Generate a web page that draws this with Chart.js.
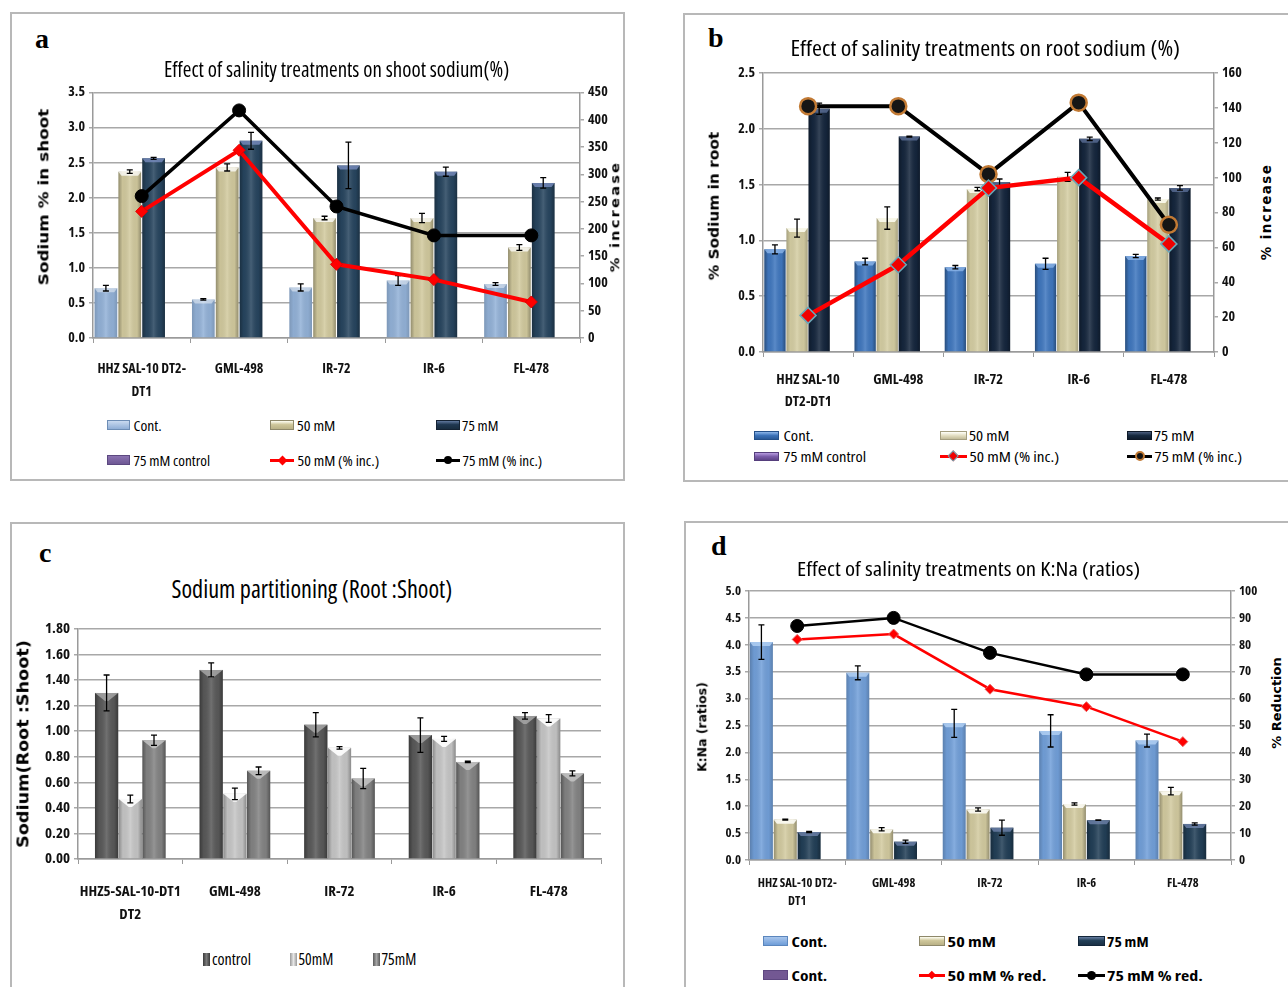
<!DOCTYPE html>
<html>
<head>
<meta charset="utf-8">
<script src="https://cdn.jsdelivr.net/npm/chart.js@4.4.1/dist/chart.umd.min.js"></script>
<style>
  html, body { margin: 0; padding: 0; background: #fff; }
  body { width: 1288px; height: 987px; position: relative; overflow: hidden; }
  .panel { position: absolute; border: 2px solid #B8B8B8; box-sizing: border-box; }
  .t { position: absolute; white-space: nowrap; line-height: 1; transform-origin: center center; color: #000; }
  .sw { position: absolute; box-sizing: border-box; }
</style>
</head>
<body>
<div class="panel" style="left:10px;top:12px;width:615px;height:469px"></div>
<div class="panel" style="left:683px;top:13px;width:620px;height:469px"></div>
<div class="panel" style="left:10px;top:522px;width:615px;height:480px"></div>
<div class="panel" style="left:684px;top:521px;width:620px;height:480px"></div>
<script>
// ---- genotypes (x categories) ----
const genotypesShoot = [["HHZ SAL-10 DT2-", "DT1"], "GML-498", "IR-72", "IR-6", "FL-478"];
const genotypesRoot = [["HHZ SAL-10", "DT2-DT1"], "GML-498", "IR-72", "IR-6", "FL-478"];
const genotypesRatio = [["HHZ5-SAL-10-DT1", "DT2"], "GML-498", "IR-72", "IR-6", "FL-478"];
const genotypesKNa = [["HHZ SAL-10 DT2-", "DT1"], "GML-498", "IR-72", "IR-6", "FL-478"];

// ---- (a) shoot sodium % ----
const shootCont = [0.71, 0.55, 0.72, 0.82, 0.77];
const shoot50 = [2.37, 2.43, 1.71, 1.71, 1.29];
const shoot75 = [2.56, 2.81, 2.46, 2.37, 2.21];
const shootContErr = [0.04, 0.01, 0.05, 0.07, 0.02];
const shoot50Err = [0.025, 0.05, 0.025, 0.065, 0.04];
const shoot75Err = [0.015, 0.12, 0.33, 0.065, 0.075];
const shootInc50 = [232, 344, 135, 107, 66];
const shootInc75 = [260, 417, 241, 188, 188];
const shootLeftTicks = { min: 0, max: 3.5, step: 0.5, dec: 1 };
const shootRightTicks = { min: 0, max: 450, step: 50, dec: 0 };

// ---- (b) root sodium % ----
const rootCont = [0.92, 0.81, 0.76, 0.79, 0.86];
const root50 = [1.11, 1.20, 1.46, 1.57, 1.37];
const root75 = [2.18, 1.93, 1.52, 1.91, 1.47];
const rootContErr = [0.04, 0.03, 0.015, 0.05, 0.015];
const root50Err = [0.08, 0.10, 0.015, 0.04, 0.01];
const root75Err = [0.05, 0.005, 0.03, 0.015, 0.02];
const rootInc50 = [21, 50, 94, 100, 62];
const rootInc75 = [141, 141, 102, 143, 73];
const rootLeftTicks = { min: 0, max: 2.5, step: 0.5, dec: 1 };
const rootRightTicks = { min: 0, max: 160, step: 20, dec: 0 };

// ---- (c) root:shoot sodium partitioning ----
const ratioControl = [1.30, 1.48, 1.05, 0.97, 1.12];
const ratio50 = [0.47, 0.51, 0.87, 0.94, 1.10];
const ratio75 = [0.93, 0.69, 0.63, 0.76, 0.67];
const ratioControlErr = [0.14, 0.055, 0.095, 0.135, 0.025];
const ratio50Err = [0.03, 0.045, 0.01, 0.02, 0.03];
const ratio75Err = [0.04, 0.03, 0.08, 0.005, 0.02];
const ratioTicks = { min: 0, max: 1.8, step: 0.2, dec: 2 };

// ---- (d) K:Na ratios ----
const knaCont = [4.05, 3.48, 2.54, 2.40, 2.22];
const kna50 = [0.75, 0.57, 0.94, 1.04, 1.28];
const kna75 = [0.52, 0.34, 0.60, 0.74, 0.67];
const knaContErr = [0.32, 0.13, 0.26, 0.30, 0.12];
const kna50Err = [0.01, 0.03, 0.03, 0.02, 0.07];
const kna75Err = [0.01, 0.03, 0.14, 0.005, 0.02];
const knaRed50 = [82, 84, 63.5, 57, 44];
const knaRed75 = [87, 90, 77, 69, 69];
const knaLeftTicks = { min: 0, max: 5, step: 0.5, dec: 1 };
const knaRightTicks = { min: 0, max: 100, step: 10, dec: 0 };

// Pick a condensed sans face if one is installed (narrow labels throughout)
function pickNarrow() {
  const c = document.createElement('canvas').getContext('2d');
  const s = 'Effect of salinity treatments 0123456789';
  const wOf = f => { c.font = f; return c.measureText(s).width; };
  const mono = wOf('20px monospace');
  const ln = wOf('20px "Liberation Sans Narrow", monospace');
  if (Math.abs(ln - mono) > 1) return { family: '"Liberation Sans Narrow"', stretch: '' };
  for (const fam of ['"Noto Sans"', '"Open Sans"', '"DejaVu Sans"', 'Roboto', 'Inter']) {
    const n = wOf(`20px ${fam}`), cnd = wOf(`condensed 20px ${fam}`);
    if (cnd < n * 0.92) return { family: fam, stretch: 'condensed' };
  }
  return { family: '"Liberation Sans"', stretch: '' };
}
const NF = pickNarrow();
const NARROW = NF.family + ', sans-serif';
const ST = NF.stretch ? NF.stretch + ' ' : '';
const VERD = '"DejaVu Sans",Verdana,sans-serif';
const SERIF = '"Liberation Serif","Times New Roman",serif';
const GRID = '#A8A8A8';
const AXIS = '#9A9A9A';
function nfont(size, bold, lh) {
  const f = { family: NARROW, size: size, weight: ((bold ? 'bold ' : 'normal ') + NF.stretch).trim() };
  if (lh) f.lineHeight = lh / size;
  return f;
}

// Shading, top bevel and error bars for every bar element
const barDecor = {
  id: 'barDecor',
  afterDatasetDraw(chart, args) {
    const meta = args.meta;
    if (meta.type !== 'bar') return;
    const ds = chart.data.datasets[args.index];
    const ctx = chart.ctx;
    const ys = chart.scales[meta.yAxisID];
    ctx.save();
    meta.data.forEach((el, i) => {
      const v = ds.data[i];
      if (v == null) return;
      const { x, y, base, width } = el.getProps(['x', 'y', 'base', 'width'], true);
      const l = x - width / 2, h = base - y;
      const g = ctx.createLinearGradient(l, 0, l + width, 0);
      const e = ds.edge || 0.3;
      g.addColorStop(0, `rgba(0,0,0,${e})`);
      g.addColorStop(0.18, 'rgba(0,0,0,0.04)');
      g.addColorStop(0.5, 'rgba(255,255,255,0.14)');
      g.addColorStop(0.82, 'rgba(0,0,0,0.04)');
      g.addColorStop(1, `rgba(0,0,0,${e})`);
      ctx.fillStyle = g;
      ctx.fillRect(l, y, width, h);
      const bh = Math.min(ds.bevelH || 4, h);
      ctx.fillStyle = ds.bevel || 'rgba(255,255,255,0.4)';
      ctx.beginPath();
      ctx.moveTo(l, y); ctx.lineTo(l + width, y);
      ctx.lineTo(l + width - (ds.bevelIn || 3), y + bh); ctx.lineTo(l + (ds.bevelIn || 3), y + bh);
      ctx.closePath(); ctx.fill();
      const err = ds.errors ? ds.errors[i] : 0;
      if (err) {
        const yt = ys.getPixelForValue(v + err), yb = ys.getPixelForValue(v - err);
        ctx.strokeStyle = '#000'; ctx.lineWidth = 1.3;
        ctx.beginPath();
        ctx.moveTo(x, yt); ctx.lineTo(x, yb);
        ctx.moveTo(x - 3, yt); ctx.lineTo(x + 3, yt);
        ctx.moveTo(x - 3, yb); ctx.lineTo(x + 3, yb);
        ctx.stroke();
      }
    });
    ctx.restore();
  }
};

function fmt(dec) { return v => Number(v).toFixed(dec); }

function yAxis(t, pos, font, onArea, fitW) {
  return {
    type: 'linear', position: pos, min: t.min, max: t.max,
    ticks: { stepSize: t.step, callback: fmt(t.dec), color: '#111', font: font, padding: 4 },
    grid: { drawOnChartArea: onArea, color: GRID, lineWidth: 1.5, tickLength: 4, drawTicks: true },
    border: { display: true, color: AXIS, width: 1.5 },
    afterFit: s => { s.width = fitW; }
  };
}

function buildChart(cfg) {
  const cv = document.createElement('canvas');
  const W = cfg.right - cfg.x0, H = cfg.bottom - cfg.y0;
  cv.width = W; cv.height = H;
  cv.style.cssText = `position:absolute;left:${cfg.x0}px;top:${cfg.y0}px;width:${W}px;height:${H}px`;
  document.body.appendChild(cv);
  const p = cfg.plot;
  const scales = {
    x: {
      type: 'category', offset: true,
      grid: { display: true, drawOnChartArea: false, drawTicks: true, tickLength: 5, color: AXIS, offset: true, lineWidth: 1 },
      border: { display: true, color: AXIS, width: 1.5 },
      ticks: { font: cfg.xFont, color: '#111', padding: cfg.xPad, maxRotation: 0, autoSkip: false },
      afterFit: s => { s.height = cfg.bottom - p.b; }
    },
    y: yAxis(cfg.left, 'left', cfg.yFont, true, p.l - cfg.x0)
  };
  if (cfg.rightTicks) scales.y2 = yAxis(cfg.rightTicks, 'right', cfg.yFont, false, cfg.right - p.r);
  new Chart(cv, {
    type: 'bar',
    data: { labels: cfg.labels, datasets: cfg.datasets },
    options: {
      responsive: false, animation: false, devicePixelRatio: 1,
      layout: { padding: { top: p.t - cfg.y0, left: 0, right: cfg.rightTicks ? 0 : cfg.right - p.r, bottom: 0 } },
      plugins: { legend: { display: false }, tooltip: { enabled: false }, title: { display: false } },
      scales: scales
    },
    plugins: [barDecor]
  });
}

function bars(label, data, errs, color, extra) {
  return Object.assign({ type: 'bar', label, data, errors: errs, backgroundColor: color, borderWidth: 0, yAxisID: 'y', order: 2 }, extra || {});
}
function line(label, data, color, width, extra) {
  return Object.assign({ type: 'line', label, data, borderColor: color, borderWidth: width, yAxisID: 'y2', order: 0, tension: 0, fill: false }, extra || {});
}

// ---------- (a) ----------
const pctA = { categoryPercentage: 0.98, barPercentage: 0.95 };
buildChart({
  x0: 36, y0: 80, right: 622, bottom: 410,
  plot: { l: 93, t: 92, r: 580, b: 338 },
  labels: genotypesShoot, left: shootLeftTicks, rightTicks: shootRightTicks,
  yFont: nfont(14, true),
  xFont: nfont(14, true, 23), xPad: 15,
  datasets: [
    bars('Cont.', shootCont, shootContErr, '#93B2D8', Object.assign({ bevel: 'rgba(255,255,255,0.45)', edge: 0.15 }, pctA)),
    bars('50 mM', shoot50, shoot50Err, '#D2CA9E', Object.assign({ bevel: 'rgba(255,255,255,0.75)', edge: 0.3 }, pctA)),
    bars('75 mM', shoot75, shoot75Err, '#27455F', Object.assign({ bevel: 'rgba(120,140,190,0.8)', edge: 0.3 }, pctA)),
    bars('75 mM control', [null, null, null, null, null], null, '#6E5894', pctA),
    line('50 mM  (% inc.)', shootInc50, '#FF0000', 4, { pointStyle: 'rectRot', pointRadius: 6, pointBackgroundColor: '#FF0000', pointBorderColor: '#E00000', pointBorderWidth: 1 }),
    line('75 mM (% inc.)', shootInc75, '#000000', 3.5, { pointStyle: 'circle', pointRadius: 6.5, pointBackgroundColor: '#000', pointBorderColor: '#000', pointBorderWidth: 1 })
  ]
});

// ---------- (b) ----------
const pctB = { categoryPercentage: 0.98, barPercentage: 0.96 };
buildChart({
  x0: 712, y0: 60, right: 1254, bottom: 420,
  plot: { l: 763, t: 73, r: 1214, b: 352 },
  labels: genotypesRoot, left: rootLeftTicks, rightTicks: rootRightTicks,
  yFont: nfont(14, true),
  xFont: nfont(14.5, true, 22), xPad: 12,
  datasets: [
    bars('Cont.', rootCont, rootContErr, '#3F77BF', Object.assign({ bevel: 'rgba(150,190,240,0.7)', edge: 0.35 }, pctB)),
    bars('50 mM', root50, root50Err, '#D5CEA3', Object.assign({ bevel: 'rgba(255,255,245,0.85)', edge: 0.22 }, pctB)),
    bars('75 mM', root75, root75Err, '#15263D', Object.assign({ bevel: 'rgba(90,110,150,0.8)', edge: 0.3 }, pctB)),
    bars('75 mM control', [null, null, null, null, null], null, '#7B5DAA', pctB),
    line('50 mM  (% inc.)', rootInc50, '#FF0000', 4.5, { pointStyle: 'rectRot', pointRadius: 8, pointBackgroundColor: '#F00000', pointBorderColor: '#6AA8B8', pointBorderWidth: 1.5 }),
    line('75 mM (% inc.)', rootInc75, '#000000', 4, { pointStyle: 'circle', pointRadius: 8, pointBackgroundColor: '#151515', pointBorderColor: '#C27A34', pointBorderWidth: 2.5 })
  ]
});

// ---------- (c) ----------
const pctC = { categoryPercentage: 0.68, barPercentage: 0.98 };
buildChart({
  x0: 20, y0: 615, right: 615, bottom: 930,
  plot: { l: 78, t: 629, r: 601, b: 859 },
  labels: genotypesRatio, left: ratioTicks, rightTicks: null,
  yFont: nfont(15, true),
  xFont: nfont(15, true, 23), xPad: 16,
  datasets: [
    bars('control', ratioControl, ratioControlErr, '#595959', Object.assign({ bevel: 'rgba(170,170,170,0.8)', edge: 0.35, bevelH: 8, bevelIn: 10 }, pctC)),
    bars('50mM', ratio50, ratio50Err, '#C6C6C6', Object.assign({ bevel: 'rgba(255,255,255,0.9)', edge: 0.3, bevelH: 8, bevelIn: 10 }, pctC)),
    bars('75mM', ratio75, ratio75Err, '#838383', Object.assign({ bevel: 'rgba(200,200,200,0.8)', edge: 0.35, bevelH: 8, bevelIn: 10 }, pctC))
  ]
});

// ---------- (d) ----------
const pctD = { categoryPercentage: 0.99, barPercentage: 0.96 };
buildChart({
  x0: 700, y0: 578, right: 1270, bottom: 920,
  plot: { l: 749, t: 591, r: 1231, b: 860 },
  labels: genotypesKNa, left: knaLeftTicks, rightTicks: knaRightTicks,
  yFont: nfont(13, true),
  xFont: nfont(12.5, true, 18), xPad: 9,
  datasets: [
    bars('Cont.', knaCont, knaContErr, '#72A0DA', Object.assign({ bevel: 'rgba(180,210,245,0.8)', edge: 0.2 }, pctD)),
    bars('50 mM', kna50, kna50Err, '#D3CBA0', Object.assign({ bevel: 'rgba(255,255,250,0.85)', edge: 0.3 }, pctD)),
    bars('75 mM', kna75, kna75Err, '#223F57', Object.assign({ bevel: 'rgba(110,130,170,0.8)', edge: 0.3 }, pctD)),
    bars('Cont.', [null, null, null, null, null], null, '#735893', pctD),
    line('50 mM  % red.', knaRed50, '#FF0000', 2.5, { pointStyle: 'rectRot', pointRadius: 5, pointBackgroundColor: '#FF0000', pointBorderColor: '#E86060', pointBorderWidth: 1 }),
    line('75  mM  % red.', knaRed75, '#000000', 2.5, { pointStyle: 'circle', pointRadius: 6.5, pointBackgroundColor: '#000', pointBorderColor: '#000', pointBorderWidth: 1 })
  ]
});

// ---------- text helpers ----------
// Places text centred on (cx, cy) or starting at x; optional width sets its drawn length.
function text(str, o) {
  const el = document.createElement('div');
  el.className = 't';
  el.textContent = str;
  el.style.font = o.font;
  if (o.ls) el.style.letterSpacing = o.ls;
  if (o.color) el.style.color = o.color;
  document.body.appendChild(el);
  const w = el.offsetWidth, h = el.offsetHeight;
  const sx = o.w ? o.w / w : 1;
  const cx = o.cx !== undefined ? o.cx : o.x + (w * sx) / 2;
  el.style.left = (cx - w / 2) + 'px';
  el.style.top = (o.cy - h / 2) + 'px';
  el.style.transform = `rotate(${o.rot || 0}deg) scaleX(${sx})`;
  return el;
}
function swatch(x, cy, w, h, css) {
  const el = document.createElement('div');
  el.className = 'sw';
  el.style.left = x + 'px'; el.style.top = (cy - h / 2) + 'px';
  el.style.width = w + 'px'; el.style.height = h + 'px';
  el.style.cssText += css;
  document.body.appendChild(el);
}
function lineSwatch(x, cy, w, color, lw, m) {
  swatch(x, cy, w, lw, `background:${color};`);
  if (m.shape === 'diamond') {
    swatch(x + w / 2 - m.r * 0.7, cy, m.r * 1.4, m.r * 1.4, `background:${m.fill};transform:rotate(45deg);border:${m.bw || 0}px solid ${m.stroke || m.fill};`);
  } else {
    swatch(x + w / 2 - m.r, cy, m.r * 2, m.r * 2, `background:${m.fill};border-radius:50%;border:${m.bw || 0}px solid ${m.stroke || m.fill};`);
  }
}
const hn = (size, weight) => `${weight || ''} ${ST}${size}px ${NARROW}`.trim();

// panel letters
text('a', { cx: 42, cy: 39, font: `bold 28px ${SERIF}` });
text('b', { cx: 716, cy: 38, font: `bold 28px ${SERIF}` });
text('c', { cx: 45, cy: 553, font: `bold 28px ${SERIF}` });
text('d', { cx: 719, cy: 546, font: `bold 28px ${SERIF}` });

// titles
text('Effect of salinity treatments on  shoot sodium(%)', { cx: 336, cy: 68, w: 345, font: hn(22, 500) });
text('Effect of salinity treatments on  root sodium (%)', { cx: 985, cy: 47, w: 390, font: hn(22, 500) });
text('Sodium partitioning (Root :Shoot)', { cx: 312, cy: 588, w: 281, font: hn(26, 500) });
text('Effect of salinity treatments on K:Na (ratios)', { cx: 968, cy: 568, w: 343, font: hn(20, 500) });

// axis titles
text('Sodium % in shoot', { cx: 43, cy: 197, w: 177, rot: -90, font: `bold 14px ${VERD}` });
text('% increase', { cx: 615, cy: 216, w: 112, rot: -90, ls: '2px', font: `bold 13px ${VERD}` });
text('% Sodium in root', { cx: 713, cy: 206, w: 148, rot: -90, font: `bold 14px ${VERD}` });
text('%  increase', { cx: 1266, cy: 212, w: 97, rot: -90, ls: '1.5px', font: `bold 14px ${VERD}` });
text('Sodium(Root :Shoot)', { cx: 23, cy: 744, w: 208, rot: -90, font: `bold 15px ${VERD}` });
text('K:Na (ratios)', { cx: 702, cy: 727, w: 90, rot: -90, font: `bold 12px ${VERD}` });
text('% Reduction', { cx: 1277, cy: 703, w: 91, rot: -90, font: `bold 12px ${VERD}` });

// ---------- legends ----------
const boxBlueA = 'background:linear-gradient(#C9DAF0,#8FAED6);border:1px solid #6D8DB5;';
const boxBeige = 'background:linear-gradient(#FFFFF4,#CEC69A 45%,#B9B186);border:1px solid #8E886A;';
const boxNavyA = 'background:linear-gradient(#60789E,#1F3750 45%,#182C40);border:1px solid #142233;';
const boxPurple = 'background:linear-gradient(#8A72B0,#6E5894);border:1px solid #5C4880;';

// (a)
const fA = hn(15, 500);
swatch(107, 425, 23, 10, boxBlueA); text('Cont.', { x: 133, cy: 425, w: 28, font: fA });
swatch(270, 425, 24, 10, boxBeige); text('50 mM', { x: 297, cy: 425, w: 38, font: fA });
swatch(436, 425, 24, 10, boxNavyA); text('75 mM', { x: 462, cy: 425, w: 36, font: fA });
swatch(107, 460, 23, 10, boxPurple); text('75 mM  control', { x: 133, cy: 460, w: 77, font: fA });
lineSwatch(270, 460, 24, '#FF0000', 3, { shape: 'diamond', r: 5, fill: '#FF0000' });
text('50 mM  (% inc.)', { x: 297, cy: 460, w: 82, font: fA });
lineSwatch(436, 460, 24, '#000', 3, { shape: 'circle', r: 4, fill: '#000' });
text('75 mM (% inc.)', { x: 462, cy: 460, w: 80, font: fA });

// (b)
const fB = hn(15, 500);
swatch(754, 435, 25, 9, 'background:linear-gradient(#8DB6EA,#3C72B8 50%,#2A5A98);border:1px solid #24508A;');
text('Cont.', { x: 783, cy: 435, w: 30, font: fB });
swatch(940, 435, 27, 9, 'background:linear-gradient(#FFFFFA,#E3DEC2 50%,#C2BB98);border:1px solid #A49E80;');
text('50 mM', { x: 969, cy: 435, w: 40, font: fB });
swatch(1127, 435, 25, 9, 'background:linear-gradient(#4B5E7E,#172A40 50%,#0F1C2D);border:1px solid #0E1928;');
text('75 mM', { x: 1154, cy: 435, w: 40, font: fB });
swatch(754, 456, 25, 9, 'background:linear-gradient(#B79BE0,#7B5DAA 50%,#5E4488);border:1px solid #553E7C;');
text('75 mM  control', { x: 783, cy: 456, w: 83, font: fB });
lineSwatch(940, 456, 27, '#FF0000', 3, { shape: 'diamond', r: 6, fill: '#F00000', stroke: '#6AA8B8', bw: 1 });
text('50 mM  (% inc.)', { x: 969, cy: 456, w: 90, font: fB });
lineSwatch(1127, 456, 25, '#000', 3, { shape: 'circle', r: 5, fill: '#151515', stroke: '#C27A34', bw: 2 });
text('75  mM  (% inc.)', { x: 1154, cy: 456, w: 88, font: fB });

// (c)
const fC = hn(16, 500);
swatch(203, 959, 7, 13, 'background:linear-gradient(90deg,#3A3A3A,#7A7A7A,#3A3A3A);');
text('control', { x: 212, cy: 959, w: 39, font: fC });
swatch(290, 959, 7, 13, 'background:linear-gradient(90deg,#9A9A9A,#E6E6E6,#9A9A9A);');
text('50mM', { x: 298, cy: 959, w: 35, font: fC });
swatch(373, 959, 7, 13, 'background:linear-gradient(90deg,#5A5A5A,#A6A6A6,#5A5A5A);');
text('75mM', { x: 381, cy: 959, w: 35, font: fC });

// (d)
const fD = hn(15, 'bold');
swatch(763, 941, 25, 10, 'background:linear-gradient(#A9C6EC,#6E9DD8);border:1px solid #5B86BD;');
text('Cont.', { x: 791, cy: 941, w: 36, font: fD });
swatch(919, 941, 26, 10, boxBeige);
text('50  mM', { x: 947, cy: 941, w: 49, font: fD });
swatch(1078, 941, 27, 10, 'background:linear-gradient(#687FA3,#223F57 45%,#1A3045);border:1px solid #13263A;');
text('75 mM', { x: 1107, cy: 941, w: 42, font: fD });
swatch(763, 975, 25, 10, 'background:#735893;border:1px solid #5E4780;');
text('Cont.', { x: 791, cy: 975, w: 36, font: fD });
lineSwatch(919, 975, 26, '#FF0000', 3, { shape: 'diamond', r: 4, fill: '#FF0000' });
text('50  mM   % red.', { x: 947, cy: 975, w: 99, font: fD });
lineSwatch(1078, 975, 27, '#000', 3, { shape: 'circle', r: 4.5, fill: '#000' });
text('75  mM   % red.', { x: 1107, cy: 975, w: 96, font: fD });
</script>
</body>
</html>
